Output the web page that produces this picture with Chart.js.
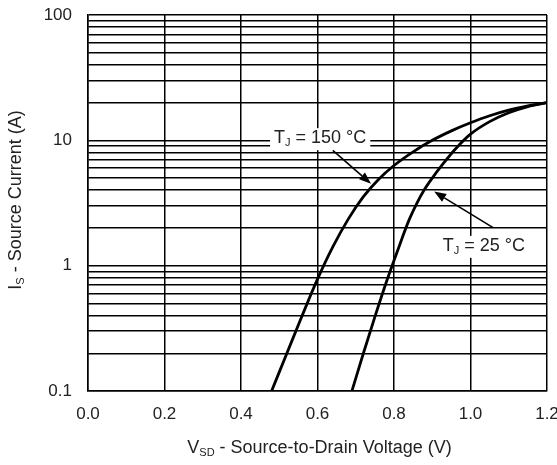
<!DOCTYPE html>
<html>
<head>
<meta charset="utf-8">
<script src="https://cdn.jsdelivr.net/npm/chart.js@4.4.1/dist/chart.umd.min.js"></script>
<style>
html,body{margin:0;padding:0;background:#fff;}
#wrap{width:557px;height:465px;}
</style>
</head>
<body>
<div id="wrap"><canvas id="c" width="557" height="465"></canvas></div>
<script>
// ---- data ----
const v150 = [0.48, 0.52, 0.56, 0.60, 0.64, 0.68, 0.72, 0.76, 0.80, 0.85, 0.90, 0.95, 1.00, 1.05, 1.10, 1.15, 1.20];
const i150 = [0.1, 0.2, 0.4, 0.78, 1.41, 2.34, 3.55, 4.9, 6.3, 8.1, 10.0, 11.9, 13.8, 15.7, 17.4, 18.8, 20];
const v25 = [0.69, 0.72, 0.75, 0.78, 0.80, 0.82, 0.84, 0.86, 0.88, 0.90, 0.93, 0.96, 1.00, 1.05, 1.10, 1.15, 1.20];
const i25 = [0.1, 0.2, 0.39, 0.74, 1.10, 1.62, 2.34, 3.16, 4.07, 5.0, 6.6, 8.5, 11.2, 14.1, 16.6, 18.6, 20];
const xTickValues = [0, 0.2, 0.4, 0.6, 0.8, 1.0, 1.2];
const xTickLabels = ['0.0', '0.2', '0.4', '0.6', '0.8', '1.0', '1.2'];
const yGridValues = [0.1,0.2,0.3,0.4,0.5,0.6,0.7,0.8,0.9,1,2,3,4,5,6,7,8,9,10,20,30,40,50,60,70,80,90,100];
const yTickLabelValues = [0.1, 1, 10, 100];
const yTickLabels = ['0.1', '1', '10', '100'];
const label150 = {v: 0.607, i: 10.4, main: 'T', sub: 'J', rest: ' = 150 °C'};
const label25 = {v: 1.035, i: 1.44, main: 'T', sub: 'J', rest: ' = 25 °C'};
const arrow150 = {from: [0.640, 8.3], to: [0.740, 4.5]};
const arrow25 = {from: [1.059, 2.01], to: [0.905, 3.9]};

const FONT = "'Liberation Sans', Arial, sans-serif";
const TEXT = '#222';

function toXY(vs, is){ return vs.map((v,k)=>({x:v, y:is[k]})); }

function measureRich(ctx, parts){
  let total = 0;
  parts.forEach(p=>{ ctx.font = p.size + 'px ' + FONT; p.w = ctx.measureText(p.t).width; total += p.w; });
  return total;
}

function drawRich(ctx, x, y, parts, align){
  const total = measureRich(ctx, parts);
  let cx = align === 'center' ? x - total/2 : x;
  parts.forEach(p=>{
    ctx.font = p.size + 'px ' + FONT;
    ctx.textAlign = 'left';
    ctx.textBaseline = 'middle';
    ctx.fillText(p.t, cx, y + (p.dy||0));
    cx += p.w;
  });
  return total;
}

function drawArrow(ctx, x1, y1, x2, y2){
  const ang = Math.atan2(y2-y1, x2-x1);
  const hl = 12, hw = 4.5;
  const bx = x2 - hl*Math.cos(ang), by = y2 - hl*Math.sin(ang);
  ctx.strokeStyle = '#000';
  ctx.lineWidth = 1.6;
  ctx.beginPath();
  ctx.moveTo(x1, y1);
  ctx.lineTo(bx, by);
  ctx.stroke();
  ctx.fillStyle = '#000';
  ctx.beginPath();
  ctx.moveTo(x2, y2);
  ctx.lineTo(bx + hw*Math.sin(ang), by - hw*Math.cos(ang));
  ctx.lineTo(bx - hw*Math.sin(ang), by + hw*Math.cos(ang));
  ctx.closePath();
  ctx.fill();
}

const decor = {
  id: 'decor',
  afterDatasetsDraw(chart){
    const ctx = chart.ctx;
    const xs = chart.scales.x, ys = chart.scales.y;
    ctx.save();
    [label150, label25].forEach(L=>{
      const px = xs.getPixelForValue(L.v), py = ys.getPixelForValue(L.i);
      const parts = [{t:L.main,size:18,dy:0},{t:L.sub,size:11,dy:5},{t:L.rest,size:18,dy:0}];
      const w = measureRich(ctx, parts);
      ctx.fillStyle = '#fff';
      ctx.fillRect(px - w/2 - 4, py - 10, w + 8, 22);
      ctx.fillStyle = TEXT;
      drawRich(ctx, px, py, parts, 'center');
    });
    [arrow150, arrow25].forEach(A=>{
      drawArrow(ctx,
        xs.getPixelForValue(A.from[0]), ys.getPixelForValue(A.from[1]),
        xs.getPixelForValue(A.to[0]), ys.getPixelForValue(A.to[1]));
    });
    ctx.restore();
  },
  afterDraw(chart){
    const ctx = chart.ctx;
    const area = chart.chartArea;
    ctx.save();
    ctx.fillStyle = TEXT;
    drawRich(ctx, (area.left + area.right)/2 + 2, 448,
      [{t:'V',size:18,dy:0},{t:'SD',size:11,dy:5},{t:' - Source-to-Drain Voltage (V)',size:18,dy:0}], 'center');
    ctx.translate(16, 200);
    ctx.rotate(-Math.PI/2);
    drawRich(ctx, 0, 0,
      [{t:'I',size:18,dy:0},{t:'S',size:11,dy:5},{t:' - Source Current (A)',size:18,dy:0}], 'center');
    ctx.restore();
  }
};

new Chart(document.getElementById('c'), {
  type: 'line',
  data: {
    datasets: [
      {label:'TJ = 150 °C', data: toXY(v150, i150), borderColor:'#000', borderWidth:2.8, pointRadius:0, cubicInterpolationMode:'monotone', fill:false},
      {label:'TJ = 25 °C', data: toXY(v25, i25), borderColor:'#000', borderWidth:2.8, pointRadius:0, cubicInterpolationMode:'monotone', fill:false}
    ]
  },
  options: {
    responsive: false,
    animation: false,
    devicePixelRatio: 1,
    layout: {padding: {top: 15, right: 10, left: 0, bottom: 0}},
    plugins: {legend:{display:false}, tooltip:{enabled:false}},
    scales: {
      x: {
        type: 'linear', min: 0, max: 1.2,
        afterBuildTicks(scale){ scale.ticks = xTickValues.map(v=>({value:v})); },
        afterFit(scale){ scale.height = 74; scale.paddingLeft = 0; scale.paddingRight = 0; },
        ticks: {
          autoSkip: false, maxRotation: 0, padding: 13,
          color: TEXT, font: {family: FONT, size: 17},
          callback(v){ const k = xTickValues.findIndex(t=>Math.abs(t-v)<1e-9); return k>=0 ? xTickLabels[k] : ''; }
        },
        grid: {color:'#000', lineWidth:1.5, drawTicks:false},
        border: {display:true, color:'#000', width:1.5}
      },
      y: {
        type: 'logarithmic', min: 0.1, max: 100,
        afterBuildTicks(scale){ scale.ticks = yGridValues.map(v=>({value:v})); },
        afterFit(scale){ scale.width = 88; scale.paddingTop = 0; scale.paddingBottom = 0; },
        ticks: {
          autoSkip: false, padding: 16,
          color: TEXT, font: {family: FONT, size: 17},
          callback(v){ const k = yTickLabelValues.findIndex(t=>Math.abs(t-v)<1e-9*Math.max(1,t)); return k>=0 ? yTickLabels[k] : ''; }
        },
        grid: {color:'#000', lineWidth:1.5, drawTicks:false},
        border: {display:true, color:'#000', width:1.5}
      }
    }
  },
  plugins: [decor]
});
</script>
</body>
</html>
